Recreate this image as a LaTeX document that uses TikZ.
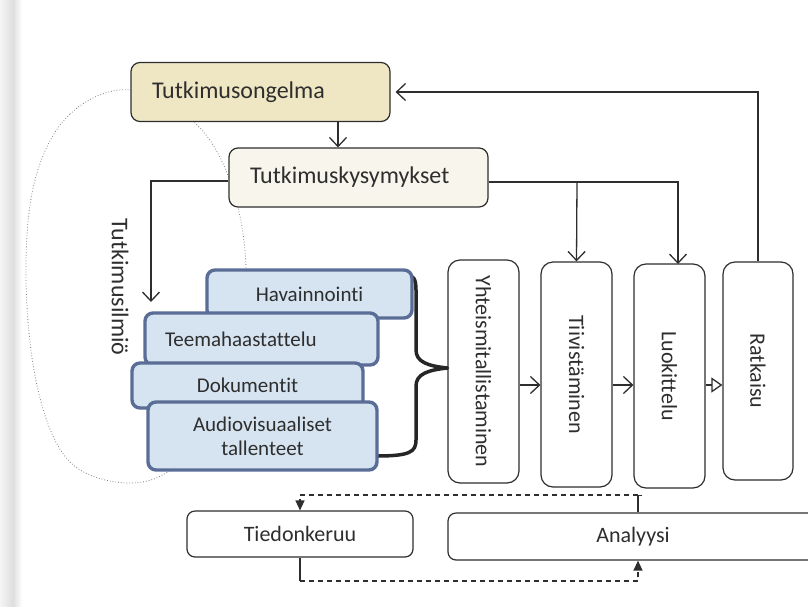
\documentclass[tikz,border=0pt]{standalone}
\usepackage{fontspec}
\setmainfont[Ligatures=NoCommon]{Carlito}
\usetikzlibrary{arrows.meta}
\definecolor{ink}{HTML}{2E2E2E}
\definecolor{probfill}{HTML}{EFE6C3}
\definecolor{kysfill}{HTML}{F8F6EC}
\definecolor{bluefill}{HTML}{D6E4F1}
\definecolor{blueedge}{HTML}{5A6D96}
\begin{document}
\begin{tikzpicture}[x=1pt,y=-1pt,
  box/.style={draw=ink, line width=1.2pt, rounded corners=9pt, text=ink, inner sep=0pt},
  topbox/.style={box, minimum height=59pt, inner xsep=21pt, text width=217pt, align=left, font=\fontsize{24}{28}\selectfont},
  vbox/.style={box, rotate=-90, minimum height=71pt, fill=white, rounded corners=12pt, font=\fontsize{22}{26}\selectfont},
  botbox/.style={box, minimum height=46pt, fill=white, rounded corners=8pt, font=\fontsize{22}{26}\selectfont},
  bluebox/.style={draw=blueedge, line width=3.4pt, fill=bluefill, rounded corners=8pt, text=ink, inner sep=0pt, font=\fontsize{21}{24}\selectfont},
  conn/.style={draw=ink, line width=1.3pt},
  arr/.style={conn, -{Straight Barb[length=9pt,width=17pt]}},
  darr/.style={conn, dashed, dash pattern=on 5pt off 4pt, -{Triangle[length=10pt,width=9pt]}},
  dline/.style={conn, dashed, dash pattern=on 5pt off 4pt}]
\useasboundingbox (0,0) rectangle (808,606);
\clip (0,0) rectangle (808,606);
% scanned page gutter
\shade[left color=black!4, right color=black!13] (0,0) rectangle (13,606);
\shade[left color=black!13, right color=white] (13,0) rectangle (22,606);
% dotted ellipse (Tutkimusilmio)
\draw[draw=black!50, dotted, line width=0.8pt] plot[smooth cycle, tension=0.6] coordinates
  {(131,90) (70,114) (35,180) (26,280) (38,390) (70,462) (130,483) (180,462) (230,390) (246,290) (236,200) (200,128)};
% top boxes
\node[topbox, fill=probfill] (prob) at (260.5,92) {Tutkimusongelma};
\node[topbox, fill=kysfill] (kys) at (358.5,177.5) {Tutkimuskysymykset};
% phenomenon label
\node[rotate=-90, text=ink, font=\fontsize{24}{28}\selectfont] (phen) at (120,287) {Tutkimusilmiö};
\coordinate (phentip) at (151,302);
% vertical process boxes
\node[vbox, minimum width=223pt] (yht) at (483.5,371.5) {Yhteismitallistaminen};
\node[vbox, minimum width=225pt] (tiiv) at (576.5,374.5) {Tiivistäminen};
\node[vbox, minimum width=224pt] (luok) at (669.5,376) {Luokittelu};
\node[vbox, minimum width=218pt, minimum height=70pt] (ratk) at (758,371) {Ratkaisu};
% brace
\draw[draw=black!85, line width=3.5pt, line cap=round]
  (404,274) .. controls (414,274) and (416,280) .. (416,290) -- (416,350)
  .. controls (416,362) and (428,366) .. (yht.south |- 0,368)
  (yht.south |- 0,368) .. controls (428,370) and (416,374) .. (416,386) -- (416,440)
  .. controls (416,452) and (410,456) .. (376,456);
% data source boxes (back to front)
\node[bluebox, minimum width=205pt, minimum height=48pt] (hav) at (309.5,294) {Havainnointi};
\node[bluebox, minimum height=52pt, inner xsep=20pt, text width=193pt, align=left] (teema) at (261.5,339) {Teemahaastattelu};
\node[bluebox, minimum width=231pt, minimum height=45pt] (doku) at (247.5,385.5) {Dokumentit};
\node[bluebox, minimum width=229pt, minimum height=68pt, align=center] (audio) at (262.5,436) {Audiovisuaaliset\\tallenteet};
% bottom boxes
\node[botbox, minimum width=226pt] (tied) at (300,534) {Tiedonkeruu};
\node[botbox, minimum width=370pt, minimum height=47pt] (anal) at (633,536.5) {Analyysi};
% connectors
\draw[arr] (prob.south -| 338,0) -- (kys.north -| 338,0);
\draw[arr] (kys.west |- 0,181) -| (phentip);
\draw[arr] (kys.east |- 0,182) -| (678,264);
\coordinate (br) at (577,182);
\draw[arr] (br) -- (tiiv.west);
\draw[arr, shorten >=5pt] (ratk.west) |- (prob.east);
\draw[arr] (yht.north |- 0,385) -- (tiiv.south |- 0,385);
\draw[arr] (tiiv.north |- 0,385) -- (luok.south |- 0,385);
\draw[conn, -{Triangle[open, length=11pt, width=15pt]}] (luok.north |- 0,385) -- (ratk.south |- 0,385);
% dashed feedback loop
\coordinate (t1) at (638,495);
\coordinate (b1) at (300,581);
\draw[conn, {Bar[width=7pt]}-] (t1) -- (anal.north -| t1);
\draw[darr] (t1) -| (tied.north);
\draw[conn] (tied.south) -- (b1);
\draw[darr] (b1) -| (anal.south -| t1);
\end{tikzpicture}
\end{document}
